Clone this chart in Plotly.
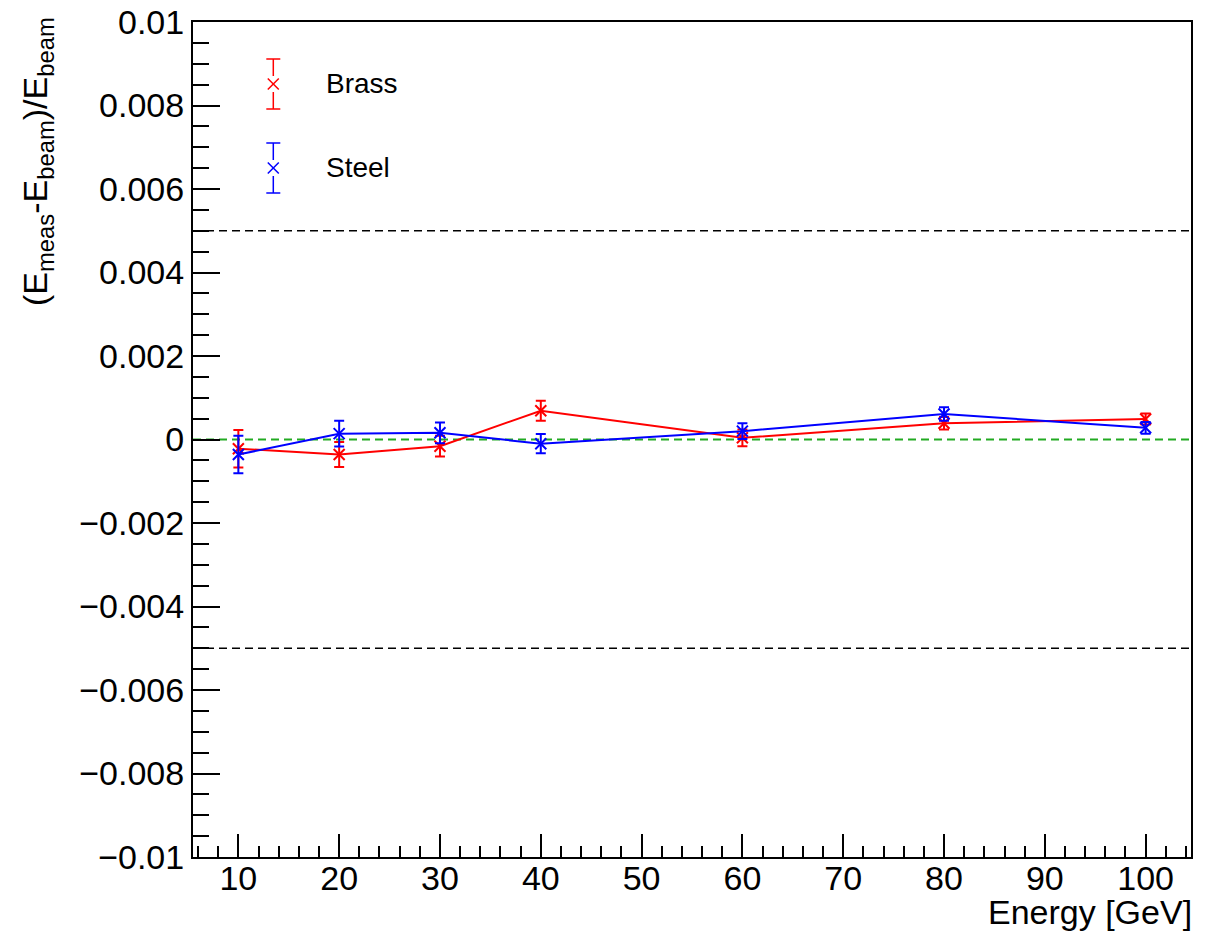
import plotly.graph_objects as go

# ---- data ----
energies = [10, 20, 30, 40, 60, 80, 100]
brass = [-0.00022, -0.00036, -0.00016, 0.00069, 0.00004, 0.00039, 0.00049]
brass_err = [0.00045, 0.00030, 0.00025, 0.00024, 0.00020, 0.00015, 0.00013]
steel = [-0.00036, 0.00014, 0.00016, -0.00010, 0.00020, 0.00061, 0.00028]
steel_err = [0.00045, 0.00031, 0.00025, 0.00023, 0.00019, 0.00016, 0.00014]

x_range = [5.5, 104.5]
y_range = [-0.01, 0.01]
x_tick_vals = [10, 20, 30, 40, 50, 60, 70, 80, 90, 100]
x_tick_labels = ["10", "20", "30", "40", "50", "60", "70", "80", "90", "100"]
y_tick_vals = [-0.01, -0.008, -0.006, -0.004, -0.002, 0, 0.002, 0.004, 0.006, 0.008, 0.01]
y_tick_labels = ["\u22120.01", "\u22120.008", "\u22120.006", "\u22120.004", "\u22120.002", "0",
                 "0.002", "0.004", "0.006", "0.008", "0.01"]
limit_lines = [0.005, -0.005]
zero_line = 0.0

RED = "#ff0000"
BLUE = "#0000ff"
GREEN = "#22aa22"
FONT = "Liberation Sans"

# ---- layout geometry (pixels); body margin removed in post_script ----
OFF = 0
W, H = 1220, 935
L, R, T, B = 193, 29, 22, 78
PW, PH = W - L - R, H - T - B


def px_x(px):  # screen pixel -> paper
    return (px - OFF - L) / PW


def px_y(py):
    return (H - B - (py - OFF)) / PH


fig = go.Figure()

for name, vals, errs, col in [("Brass", brass, brass_err, RED), ("Steel", steel, steel_err, BLUE)]:
    fig.add_trace(go.Scatter(
        x=energies, y=vals, name=name, mode="lines+markers",
        line=dict(color=col, width=2),
        marker=dict(symbol="x-thin", size=11, color=col, line=dict(color=col, width=2)),
        error_y=dict(type="data", array=errs, visible=True, color=col, thickness=2, width=5),
        showlegend=False,
    ))

shapes = []
for yv in limit_lines:
    shapes.append(dict(type="line", xref="x", yref="y", x0=x_range[0], x1=x_range[1], y0=yv, y1=yv,
                       line=dict(color="black", width=1.5, dash="8px,5px"), layer="below"))
shapes.append(dict(type="line", xref="x", yref="y", x0=x_range[0], x1=x_range[1], y0=zero_line, y1=zero_line,
                   line=dict(color=GREEN, width=2, dash="8px,5px"), layer="below"))

# ---- hand-drawn legend ----
annotations = []
legend_entries = [("Brass", RED, 84), ("Steel", BLUE, 168)]
lx = 273.3
for name, col, cy in legend_entries:
    top, bot = cy - 25, cy + 25
    gap = 8
    xs = 5.5
    lw = dict(color=col, width=1.5)
    shapes += [
        dict(type="line", xref="paper", yref="paper", x0=px_x(lx), x1=px_x(lx), y0=px_y(top), y1=px_y(cy - gap), line=lw),
        dict(type="line", xref="paper", yref="paper", x0=px_x(lx), x1=px_x(lx), y0=px_y(cy + gap), y1=px_y(bot), line=lw),
        dict(type="line", xref="paper", yref="paper", x0=px_x(lx - 7), x1=px_x(lx + 7), y0=px_y(top), y1=px_y(top), line=lw),
        dict(type="line", xref="paper", yref="paper", x0=px_x(lx - 7), x1=px_x(lx + 7), y0=px_y(bot), y1=px_y(bot), line=lw),
        dict(type="line", xref="paper", yref="paper", x0=px_x(lx - xs), x1=px_x(lx + xs), y0=px_y(cy - xs), y1=px_y(cy + xs), line=lw),
        dict(type="line", xref="paper", yref="paper", x0=px_x(lx - xs), x1=px_x(lx + xs), y0=px_y(cy + xs), y1=px_y(cy - xs), line=lw),
    ]
    annotations.append(dict(text=name, xref="paper", yref="paper", x=px_x(324), y=px_y(cy),
                            xanchor="left", yanchor="middle", showarrow=False,
                            font=dict(family=FONT, size=28, color="black")))

# axis titles
annotations.append(dict(text="Energy [GeV]", xref="paper", yref="paper", x=px_x(1194), y=px_y(891),
                        xanchor="right", yanchor="top", showarrow=False,
                        font=dict(family=FONT, size=34, color="black")))
annotations.append(dict(text="(E<sub>meas</sub>-E<sub>beam</sub>)/E<sub>beam</sub>", xref="paper", yref="paper",
                        x=px_x(14), y=px_y(15), xanchor="left", yanchor="top", textangle=-90,
                        showarrow=False, font=dict(family=FONT, size=34, color="black")))

axis_common = dict(showline=True, linecolor="black", linewidth=2, mirror=True, ticks="inside",
                   tickcolor="black", tickwidth=1.5, showgrid=False, zeroline=False,
                   ticklabeloverflow="allow",
                   tickfont=dict(family=FONT, size=34, color="black"))

fig.update_layout(
    width=W, height=H, margin=dict(l=L, r=R, t=T, b=B, autoexpand=False),
    paper_bgcolor="white", plot_bgcolor="white",
    shapes=shapes, annotations=annotations,
    xaxis=dict(range=x_range, tickvals=x_tick_vals, ticktext=x_tick_labels, ticklen=23,
               ticklabelstandoff=-10,
               minor=dict(dtick=2, tick0=0, ticks="inside", ticklen=11, tickcolor="black", tickwidth=1.5),
               **axis_common),
    yaxis=dict(range=y_range, tickvals=y_tick_vals, ticktext=y_tick_labels, ticklen=27,
               minor=dict(dtick=0.0005, tick0=0, ticks="inside", ticklen=16, tickcolor="black", tickwidth=1.5),
               **axis_common),
)

fig.write_html("out.html", config={"displayModeBar": False},
               post_script="document.body.style.margin='0px';")
